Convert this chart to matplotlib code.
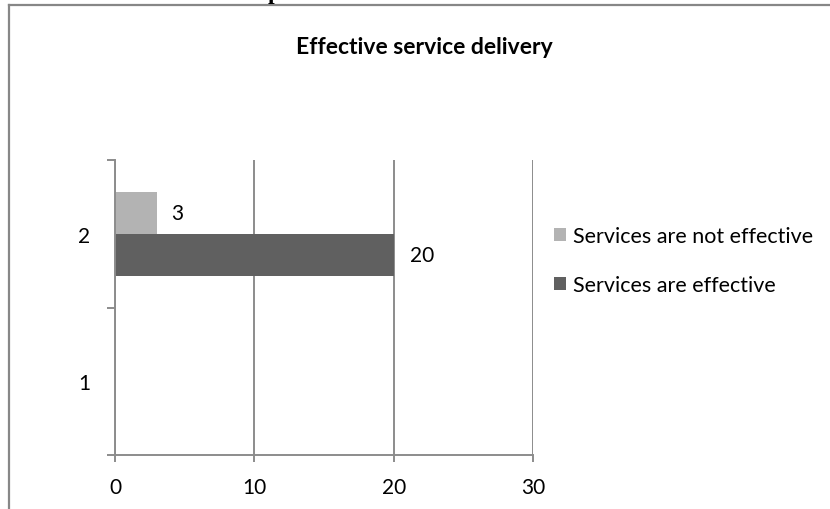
import matplotlib
matplotlib.use("Agg")
import matplotlib.pyplot as plt
from matplotlib.lines import Line2D
from matplotlib.patches import Patch

categories = ["1", "2"]
series_names = ["Services are effective", "Services are not effective"]
effective = [None, 20]
not_effective = [None, 3]
x_ticks = [0, 10, 20, 30]

FONT = ["Lato", "DejaVu Sans"]
GRID = "#8c8c8c"
C_DARK = "#606060"
C_LIGHT = "#b3b3b3"
FS = 15

W, H = 830, 510
fig = plt.figure(figsize=(W / 100, H / 100), dpi=100)
fig.patch.set_facecolor("white")

def fx(px):
    return px / W

def fy(py):
    return 1 - py / H

# outer chart border (top and left only visible)
fig.add_artist(Line2D([fx(8.5), fx(829)], [fy(5.5), fy(5.5)], color="#878787", lw=1.6,
                      transform=fig.transFigure))
fig.add_artist(Line2D([fx(8.5), fx(8.5)], [fy(5.5), fy(512)], color="#878787", lw=1.6,
                      transform=fig.transFigure))
# cropped heading fragment above the chart
fig.text(fx(274), fy(-1), "p", fontsize=17, fontweight="bold", family=["Liberation Serif"],
         ha="center", va="baseline")

ax = fig.add_axes([fx(115), fy(456), fx(533) - fx(115), fy(161) - fy(456)])

bar_h = 0.2857
pos = list(range(1, len(categories) + 1))
for i, (v_eff, v_not) in enumerate(zip(effective, not_effective)):
    y = pos[i]
    if v_eff is not None:
        ax.barh(y - bar_h / 2, v_eff, height=bar_h, color=C_DARK, zorder=3)
        ax.text(v_eff + 1.2, y - bar_h / 2, str(v_eff), va="center", ha="left",
                fontsize=FS, family=FONT)
    if v_not is not None:
        ax.barh(y + bar_h / 2, v_not, height=bar_h, color=C_LIGHT, zorder=3)
        ax.text(v_not + 1.0, y + bar_h / 2, str(v_not), va="center", ha="left",
                fontsize=FS, family=FONT)

ax.set_xlim(0, 30)
ax.set_ylim(0.5, len(categories) + 0.5)
ax.set_xticks(x_ticks)
ax.set_xticklabels([str(t) for t in x_ticks], fontsize=FS, family=FONT)
ax.set_yticks(pos)
ax.set_yticklabels(categories, fontsize=FS, family=FONT)
ax.set_yticks([p + 0.5 for p in [0] + pos], minor=True)
ax.tick_params(axis="y", which="major", length=0, pad=18)
ax.tick_params(axis="y", which="minor", length=6, width=1.4, color=GRID, direction="out")
ax.tick_params(axis="x", which="major", length=5, width=1.4, color=GRID, direction="out", pad=11)
ax.xaxis.grid(True, color=GRID, lw=1.4, zorder=0)
for s in ["top", "right"]:
    ax.spines[s].set_visible(False)
for s in ["left", "bottom"]:
    ax.spines[s].set_color(GRID)
    ax.spines[s].set_linewidth(1.4)
    ax.spines[s].set_zorder(4)
ax.set_facecolor("none")

fig.text(fx(424), fy(47), "Effective service delivery", fontsize=16.5, fontweight="bold",
         family=FONT, ha="center", va="center")

handles = [Patch(facecolor=C_LIGHT, edgecolor="none"), Patch(facecolor=C_DARK, edgecolor="none")]
labels = [series_names[1], series_names[0]]
fig.legend(handles, labels, loc="upper left", bbox_to_anchor=(fx(554), fy(227)),
           frameon=False, prop={"family": FONT, "size": 15.5},
           handlelength=0.55, handleheight=0.55, handletextpad=0.35, labelspacing=1.35,
           borderaxespad=0, borderpad=0)

fig.savefig("out.png", dpi=100)
